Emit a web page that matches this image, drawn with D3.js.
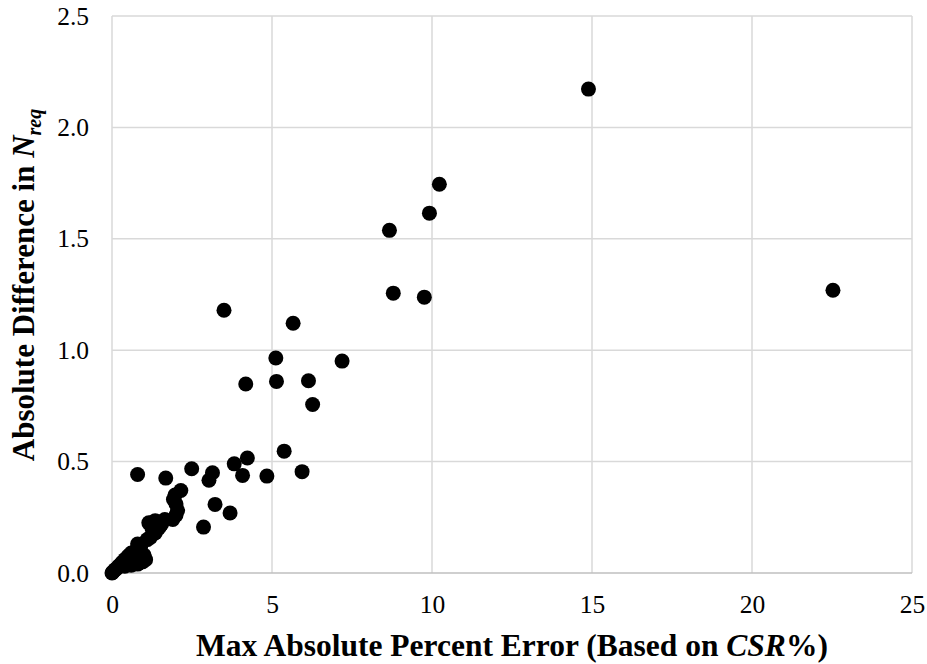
<!DOCTYPE html>
<html>
<head>
<meta charset="utf-8">
<script src="https://cdn.jsdelivr.net/npm/d3@7"></script>
<style>
  body { margin: 0; background: #fff; }
  svg text { font-family: "Liberation Serif", "Times New Roman", serif; }
</style>
</head>
<body>
<div id="chart"></div>
<script>
// data
const maxPctError = [
  0, 0.02, 0.05, 0.1, 0.15, 0.2, 0.25, 0.3, 0.35, 0.4, 0.45, 0.5, 0.55, 0.6, 0.65,
  0.7, 0.75, 0.8, 0.85, 0.95, 1.05, 0.6, 0.5, 0.8, 0.9, 1.1, 1.2, 1.35, 1.45, 1.55,
  1.15, 1.35, 1.65, 1.9, 2.0, 2.05, 2.0, 1.92, 1.97, 2.15, 0.8, 1.68, 0.72, 0.98,
  0.7, 0.85, 0.95, 1.0, 0.4, 0.62, 1.25, 1.5,
  2.49, 3.14, 3.03, 3.22, 3.69, 2.86, 3.82, 4.23, 4.08, 4.84, 5.94, 5.38,
  4.18, 5.14, 6.14, 6.27, 5.12, 7.19, 3.5, 5.66,
  8.67, 8.79, 9.76, 9.92, 10.23, 14.89, 22.53
];
const absDiffNreq = [
  0, 0.003, 0.008, 0.015, 0.02, 0.03, 0.035, 0.045, 0.05, 0.06, 0.065, 0.075, 0.08, 0.09, 0.04,
  0.05, 0.06, 0.04, 0.07, 0.065, 0.06, 0.035, 0.05, 0.13, 0.12, 0.15, 0.16, 0.18, 0.2, 0.22,
  0.225, 0.235, 0.24, 0.24, 0.26, 0.28, 0.31, 0.33, 0.35, 0.37, 0.442, 0.426, 0.086, 0.071,
  0.095, 0.045, 0.05, 0.08, 0.03, 0.07, 0.2, 0.21,
  0.468, 0.45, 0.416, 0.308, 0.269, 0.206, 0.49, 0.516, 0.438, 0.435, 0.455, 0.547,
  0.848, 0.86, 0.863, 0.756, 0.965, 0.951, 1.179, 1.121,
  1.538, 1.256, 1.238, 1.615, 1.745, 2.172, 1.269
];
const xTicks = [0, 5, 10, 15, 20, 25];
const yTicks = [0, 0.5, 1.0, 1.5, 2.0, 2.5];

const width = 927, height = 664;
const margin = { top: 16, right: 15, bottom: 91, left: 112 };
const plotW = width - margin.left - margin.right;
const plotH = height - margin.top - margin.bottom;

const points = maxPctError.map((x, i) => ({ x: x, y: absDiffNreq[i] }));

const svg = d3.select("#chart").append("svg")
  .attr("width", width).attr("height", height);

const plot = svg.append("g")
  .attr("transform", `translate(${margin.left},${margin.top})`);

const xScale = d3.scaleLinear().domain([0, 25]).range([0, plotW]);
const yScale = d3.scaleLinear().domain([0, 2.5]).range([plotH, 0]);

// grid
plot.append("g").selectAll("line").data(xTicks).enter().append("line")
  .attr("x1", d => xScale(d)).attr("x2", d => xScale(d))
  .attr("y1", 0).attr("y2", plotH)
  .attr("stroke", "#d9d9d9").attr("stroke-width", 1.5);
plot.append("g").selectAll("line").data(yTicks).enter().append("line")
  .attr("x1", 0).attr("x2", plotW)
  .attr("y1", d => yScale(d)).attr("y2", d => yScale(d))
  .attr("stroke", d => d === 0 ? "#bfbfbf" : "#d9d9d9").attr("stroke-width", 1.5);

// axes (labels only)
const xAxis = d3.axisBottom(xScale).tickValues(xTicks).tickSize(0).tickPadding(22).tickFormat(d3.format("d"));
const yAxis = d3.axisLeft(yScale).tickValues(yTicks).tickSize(0).tickPadding(23).tickFormat(d3.format(".1f"));

const gx = plot.append("g").attr("transform", `translate(0,${plotH})`).call(xAxis);
const gy = plot.append("g").call(yAxis);
[gx, gy].forEach(g => {
  g.select(".domain").remove();
  g.selectAll("text")
    .style("font-family", "'Liberation Serif', 'Times New Roman', serif")
    .style("font-size", "25.5px").attr("fill", "#000");
});

// points
plot.append("g").selectAll("circle").data(points).enter().append("circle")
  .attr("cx", d => xScale(d.x)).attr("cy", d => yScale(d.y))
  .attr("r", 7.5).attr("fill", "#000");

// x title
const xt = svg.append("text")
  .attr("x", margin.left + plotW / 2).attr("y", 656)
  .attr("text-anchor", "middle")
  .style("font-size", "31.5px").style("font-weight", "bold");
xt.append("tspan").text("Max Absolute Percent Error (Based on ");
xt.append("tspan").style("font-style", "italic").text("CSR");
xt.append("tspan").text("%)");

// y title
const yt = svg.append("text")
  .attr("transform", `translate(34,285) rotate(-90)`)
  .attr("text-anchor", "middle")
  .style("font-size", "31px").style("font-weight", "bold");
yt.append("tspan").text("Absolute Difference in ");
yt.append("tspan").style("font-style", "italic").text("N");
yt.append("tspan").style("font-style", "italic").style("font-size", "20px")
  .attr("dy", 7).text("req");
</script>
</body>
</html>
